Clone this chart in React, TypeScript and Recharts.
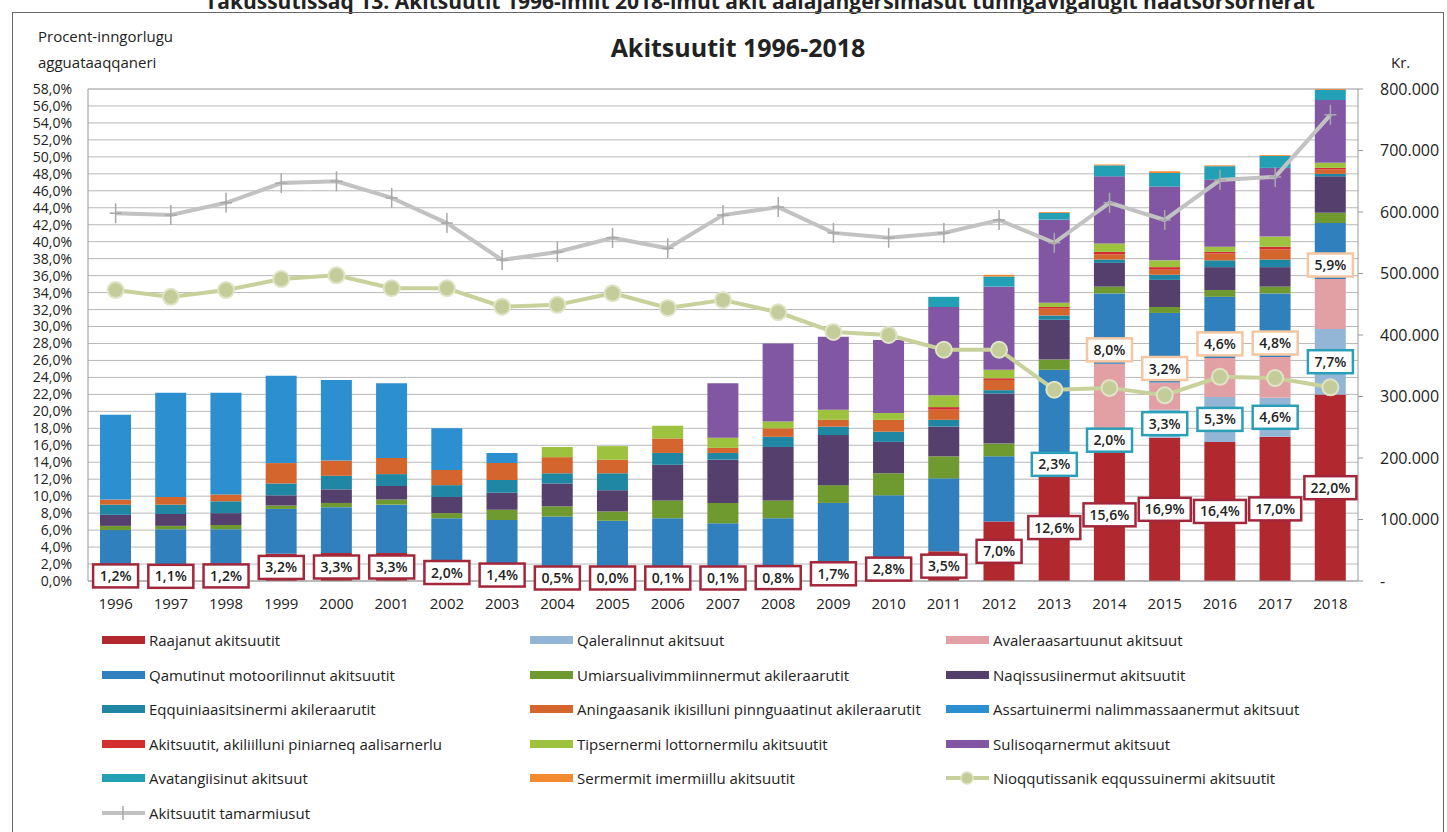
import React from 'react';
import { ComposedChart, Bar, Line, XAxis, YAxis, CartesianGrid, LabelList } from 'recharts';

// years on the x axis
const years = ['1996', '1997', '1998', '1999', '2000', '2001', '2002', '2003', '2004', '2005', '2006', '2007',
  '2008', '2009', '2010', '2011', '2012', '2013', '2014', '2015', '2016', '2017', '2018'];

// stacked shares, percent of all fees (bottom to top)
const raajanut = [1.2, 1.1, 1.2, 3.2, 3.3, 3.3, 2.0, 1.4, 0.5, 0.0, 0.1, 0.1, 0.8, 1.7, 2.8, 3.5, 7.0, 12.6, 15.6, 16.9, 16.4, 17.0, 22.0];
const qaleralinnut = [0, 0, 0, 0, 0, 0, 0, 0, 0, 0, 0, 0, 0, 0, 0, 0, 0, 2.3, 2.0, 3.3, 5.3, 4.6, 7.7];
const avaleraasartuunut = [0, 0, 0, 0, 0, 0, 0, 0, 0, 0, 0, 0, 0, 0, 0, 0, 0, 0, 8.0, 3.2, 4.6, 4.8, 5.9];
const qamutinut = [4.8, 5.0, 4.9, 5.3, 5.4, 5.7, 5.4, 5.8, 7.1, 7.1, 7.3, 6.7, 6.6, 7.5, 7.3, 8.6, 7.7, 10.0, 8.3, 8.2, 7.2, 7.5, 6.6];
const umiarsualivik = [0.5, 0.4, 0.5, 0.4, 0.5, 0.6, 0.6, 1.2, 1.2, 1.1, 2.1, 2.4, 2.1, 2.1, 2.6, 2.6, 1.5, 1.2, 0.8, 0.7, 0.8, 0.8, 1.2];
const naqissusiinermut = [1.3, 1.4, 1.4, 1.2, 1.6, 1.6, 1.9, 2.0, 2.7, 2.5, 4.2, 5.1, 6.3, 5.9, 3.7, 3.5, 5.9, 4.7, 2.8, 3.2, 2.7, 2.3, 4.3];
const eqquiniaasitsinermi = [1.2, 1.1, 1.4, 1.4, 1.6, 1.4, 1.4, 1.5, 1.2, 2.0, 1.4, 0.8, 1.2, 1.0, 1.2, 0.8, 0.4, 0.5, 0.4, 0.6, 0.8, 0.9, 0.3];
const aningaasanik = [0.6, 0.9, 0.8, 2.4, 1.8, 1.9, 1.8, 2.0, 1.9, 1.6, 1.7, 0.6, 1.0, 0.8, 1.4, 1.2, 1.2, 0.8, 0.6, 0.6, 0.8, 1.2, 0.5];
const assartuinermi = [10.0, 12.3, 12.0, 10.3, 9.5, 8.8, 4.9, 1.2, 0, 0, 0, 0, 0, 0, 0, 0, 0, 0, 0, 0, 0, 0, 0];
const piniarneq = [0, 0, 0, 0, 0, 0, 0, 0, 0, 0, 0, 0, 0, 0, 0, 0.3, 0.2, 0.2, 0.3, 0.3, 0.2, 0.3, 0.2];
const tipsernermi = [0, 0, 0, 0, 0, 0, 0, 0, 1.2, 1.6, 1.5, 1.2, 0.8, 1.2, 0.8, 1.4, 1.0, 0.5, 1.0, 0.8, 0.6, 1.2, 0.6];
const sulisoqarnermut = [0, 0, 0, 0, 0, 0, 0, 0, 0, 0, 0, 6.4, 9.2, 8.6, 8.6, 10.4, 9.8, 9.8, 7.9, 8.7, 7.9, 8.1, 7.4];
const avatangiisinut = [0, 0, 0, 0, 0, 0, 0, 0, 0, 0, 0, 0, 0, 0, 0, 1.2, 1.2, 0.8, 1.3, 1.6, 1.6, 1.4, 1.2];
const sermermit = [0, 0, 0, 0, 0, 0, 0, 0, 0, 0, 0, 0, 0, 0, 0, 0, 0.2, 0.1, 0.1, 0.2, 0.1, 0.1, 0.1];

// lines, kr. (right axis)
const eqqussuinermi = [473000, 462000, 473000, 491000, 497000, 476000, 476000, 446000, 449000, 468000, 444000, 457000,
  437000, 405000, 400000, 376000, 376000, 311000, 314000, 302000, 332000, 330000, 315000];
const tamarmiusut = [598000, 595000, 615000, 647000, 650000, 623000, 582000, 522000, 535000, 558000, 541000, 595000,
  608000, 566000, 558000, 566000, 587000, 550000, 615000, 587000, 652000, 657000, 758000];

const leftTicks = Array.from({ length: 30 }, (_, i) => i * 2);
const rightTicks = [0, 100000, 200000, 300000, 400000, 500000, 600000, 700000, 800000];

const barSeries = [
  { key: 'raajanut', name: 'Raajanut akitsuutit', color: '#b1292f', values: raajanut },
  { key: 'qaleralinnut', name: 'Qaleralinnut akitsuut', color: '#94b6d6', values: qaleralinnut },
  { key: 'avaleraasartuunut', name: 'Avaleraasartuunut akitsuut', color: '#e2a0a5', values: avaleraasartuunut },
  { key: 'qamutinut', name: 'Qamutinut motoorilinnut akitsuutit', color: '#2f80bd', values: qamutinut },
  { key: 'umiarsualivik', name: 'Umiarsualivimmiinnermut akileraarutit', color: '#6f9a30', values: umiarsualivik },
  { key: 'naqissusiinermut', name: 'Naqissusiinermut akitsuutit', color: '#553f6c', values: naqissusiinermut },
  { key: 'eqquiniaasitsinermi', name: 'Eqquiniaasitsinermi akileraarutit', color: '#1f87a4', values: eqquiniaasitsinermi },
  { key: 'aningaasanik', name: 'Aningaasanik ikisilluni pinnguaatinut akileraarutit', color: '#d4652c', values: aningaasanik },
  { key: 'assartuinermi', name: 'Assartuinermi nalimmassaanermut akitsuut', color: '#2b8fd0', values: assartuinermi },
  { key: 'piniarneq', name: 'Akitsuutit, akiliilluni piniarneq aalisarnerlu', color: '#d22e2e', values: piniarneq },
  { key: 'tipsernermi', name: 'Tipsernermi lottornermilu akitsuutit', color: '#9cc23e', values: tipsernermi },
  { key: 'sulisoqarnermut', name: 'Sulisoqarnermut akitsuut', color: '#8157a3', values: sulisoqarnermut },
  { key: 'avatangiisinut', name: 'Avatangiisinut akitsuut', color: '#24a0b6', values: avatangiisinut },
  { key: 'sermermit', name: 'Sermermit imermiillu akitsuutit', color: '#f28b30', values: sermermit },
];

const OLIVE = '#c8d19c';
const GREY = '#c2c2c2';

const data = years.map((year, i) => {
  const row: any = { year, eqqussuinermi: eqqussuinermi[i], tamarmiusut: tamarmiusut[i] };
  barSeries.forEach(s => { row[s.key] = s.values[i]; });
  // label anchor points, from the stacked values
  row.pos1 = raajanut[i] / 2;
  row.pos2 = raajanut[i] + qaleralinnut[i] / 2;
  row.pos3 = raajanut[i] + qaleralinnut[i] + avaleraasartuunut[i];
  return row;
});

const pct = (v: number) => v.toFixed(1).replace('.', ',') + '%';
const kr = (v: number) => (v === 0 ? '-' : String(v).replace(/\B(?=(\d{3})+(?!\d))/g, '.'));

const makeBox = (border: string, showZero: boolean, shift: number) => (props: any) => {
  const { x, y, value, index } = props;
  if (value == null || (!showZero && !value)) return null;
  let cy = Number(y) + shift;
  if (cy > 578) cy = 578;
  const w = value >= 10 ? 52 : 45;
  const h = 23;
  return (
    <g key={'lb' + border + index}>
      <rect x={x - w / 2} y={cy - h / 2} width={w} height={h} fill="#fff" stroke={border} strokeWidth={2.5} />
      <text x={x} y={cy + 5} textAnchor="middle" fontSize={14} fontWeight={600} fill="#222" fontFamily="Open Sans">{pct(value)}</text>
    </g>
  );
};

const PlusDot = (props: any) => {
  const { cx, cy, index } = props;
  return (
    <g key={'pd' + index}>
      <line x1={cx} x2={cx} y1={cy - 10} y2={cy + 10} stroke="#a8a8a8" strokeWidth={1.5} />
      <line x1={cx - 6} x2={cx + 6} y1={cy} y2={cy} stroke="#a8a8a8" strokeWidth={1.5} />
    </g>
  );
};

const legendItems = [
  ...barSeries.map(s => ({ name: s.name, color: s.color, kind: 'bar' })),
  { name: 'Nioqqutissanik eqqussuinermi akitsuutit', color: OLIVE, kind: 'circle' },
  { name: 'Akitsuutit tamarmiusut', color: GREY, kind: 'plus' },
];
const legendCols = [100, 528, 944];

const font = '"Open Sans", sans-serif';

export default function App() {
  return (
    <div style={{ position: 'absolute', left: 0, top: 0, width: 1447, height: 832, overflow: 'hidden', background: '#fff', fontFamily: font, color: '#222' }}>
      <div style={{ position: 'absolute', left: 60, width: 1400, top: -13, textAlign: 'center', fontWeight: 700, fontSize: 21, whiteSpace: 'nowrap' }}>
        Takussutissaq 13. Akitsuutit 1996-imiit 2018-imut akit aalajangersimasut tunngavigalugit naatsorsornerat
      </div>
      <div style={{ position: 'absolute', left: 12, top: 12, width: 1430, height: 840, border: '1px solid #666' }} />
      <div style={{ position: 'absolute', left: 38, top: 23, fontSize: 15, lineHeight: '26px', fontWeight: 500 }}>
        Procent-inngorlugu<br />agguataaqqaneri
      </div>
      <div style={{ position: 'absolute', left: 0, width: 1476, top: 30, textAlign: 'center', fontSize: 25, fontWeight: 700 }}>
        Akitsuutit 1996-2018
      </div>
      <div style={{ position: 'absolute', left: 1391, top: 52, fontSize: 15, fontWeight: 500 }}>Kr.</div>

      <div style={{ position: 'absolute', left: 0, top: 0 }}>
        <ComposedChart width={1447} height={625} data={data} margin={{ top: 89, right: 29, left: 8, bottom: 14 }} barSize={31}>
          <CartesianGrid yAxisId="left" vertical={false} stroke="#b9b9b9" />
          <XAxis dataKey="year" tickLine={false} tickSize={0} tickMargin={17} height={30} stroke="#999"
            tick={{ fontSize: 15, fill: '#222', fontFamily: font }} />
          <YAxis yAxisId="left" domain={[0, 58]} ticks={leftTicks} interval={0} width={80} tickSize={0} tickMargin={16}
            tickFormatter={pct} stroke="#999" tick={{ fontSize: 14, fill: '#222', fontFamily: font }} />
          <YAxis yAxisId="right" orientation="right" domain={[0, 800000]} ticks={rightTicks} interval={0} width={60}
            tickSize={5} tickMargin={17} tickFormatter={kr} stroke="#999" tick={{ fontSize: 16, fill: '#222', fontFamily: font }} />
          {barSeries.map(s => (
            <Bar key={s.key} yAxisId="left" dataKey={s.key} name={s.name} stackId="a" fill={s.color} isAnimationActive={false} />
          ))}
          <Line yAxisId="right" dataKey="eqqussuinermi" stroke={OLIVE} strokeWidth={4} isAnimationActive={false}
            dot={{ r: 8, fill: '#c4cd9a', stroke: '#dfe4c6', strokeWidth: 2 }} activeDot={false} />
          <Line yAxisId="right" dataKey="tamarmiusut" stroke={GREY} strokeWidth={4} isAnimationActive={false}
            dot={PlusDot} activeDot={false} />
          <Line yAxisId="left" dataKey="pos1" stroke="none" dot={false} activeDot={false} isAnimationActive={false}>
            <LabelList dataKey="raajanut" content={makeBox('#a3273b', true, 0)} />
          </Line>
          <Line yAxisId="left" dataKey="pos2" stroke="none" dot={false} activeDot={false} isAnimationActive={false}>
            <LabelList dataKey="qaleralinnut" content={makeBox('#2b9fb8', false, 0)} />
          </Line>
          <Line yAxisId="left" dataKey="pos3" stroke="none" dot={false} activeDot={false} isAnimationActive={false}>
            <LabelList dataKey="avaleraasartuunut" content={makeBox('#f4c6a2', false, -14)} />
          </Line>
        </ComposedChart>
      </div>

      {legendItems.map((it, i) => {
        const col = i % 3;
        const row = Math.floor(i / 3);
        const left = legendCols[col];
        const top = 630 + row * 34.5;
        return (
          <div key={it.name} style={{ position: 'absolute', left, top, height: 20, display: 'flex', alignItems: 'center', fontSize: 15, fontWeight: 500, whiteSpace: 'nowrap' }}>
            <svg width={46} height={20} style={{ marginRight: 3 }}>
              {it.kind === 'bar' && <rect x={2} y={6} width={43} height={8} fill={it.color} />}
              {it.kind !== 'bar' && <line x1={2} x2={45} y1={10} y2={10} stroke={it.color} strokeWidth={4} />}
              {it.kind === 'circle' && <circle cx={23} cy={10} r={6} fill="#c4cd9a" stroke="#dfe4c6" strokeWidth={1.5} />}
              {it.kind === 'plus' && <line x1={23} x2={23} y1={3} y2={17} stroke="#a8a8a8" strokeWidth={1.5} />}
            </svg>
            {it.name}
          </div>
        );
      })}
    </div>
  );
}
